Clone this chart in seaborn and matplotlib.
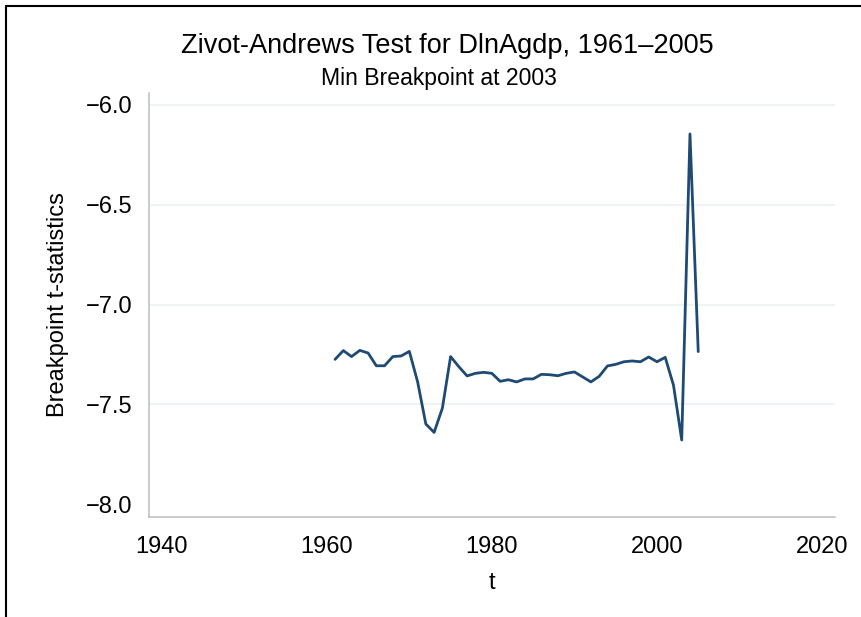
import matplotlib
matplotlib.use("Agg")
import matplotlib.pyplot as plt
from matplotlib.lines import Line2D
import pandas as pd
import seaborn as sns

# ── Data ─────────────────────────────────────────────────────────────────────
years = list(range(1961, 2006))
t_stats = [
    -7.275, -7.231, -7.261, -7.230, -7.243, -7.307, -7.307, -7.261, -7.258, -7.235,
    -7.387, -7.599, -7.641, -7.520, -7.261, -7.312, -7.358, -7.345, -7.340, -7.345,
    -7.385, -7.377, -7.388, -7.373, -7.373, -7.350, -7.352, -7.357, -7.345, -7.338,
    -7.363, -7.388, -7.360, -7.308, -7.300, -7.287, -7.283, -7.287, -7.263, -7.287,
    -7.265, -7.404, -7.679, -6.145, -7.236,
]
x_ticks = [1940, 1960, 1980, 2000, 2020]
y_ticks = [-8.0, -7.5, -7.0, -6.5, -6.0]

title = "Zivot-Andrews Test for DlnAgdp, 1961\u20132005"
subtitle = "Min Breakpoint at 2003"

df = pd.DataFrame({"t": years, "stat": t_stats})

# ── Style ────────────────────────────────────────────────────────────────────
sns.set_style("white")
plt.rcParams["font.family"] = ["Liberation Sans", "DejaVu Sans"]
plt.rcParams["text.color"] = "black"
plt.rcParams["axes.labelcolor"] = "black"
plt.rcParams["xtick.labelcolor"] = "black"
plt.rcParams["ytick.labelcolor"] = "black"

LINE_COL = "#1f4a73"
AXIS_COL = "#bdbdbd"
GRID_COL = "#eaf0f0"

fig = plt.figure(figsize=(8.61, 6.17), dpi=100)
ax = fig.add_axes([149 / 861, 1 - 517 / 617, (835 - 149) / 861, (517 - 93) / 617])

sns.lineplot(data=df, x="t", y="stat", color=LINE_COL, lw=2.0, ax=ax)

ax.set_xlim(1938.46, 2021.57)
ax.set_ylim(-8.065, -5.94)
ax.set_xticks(x_ticks)
ax.set_yticks(y_ticks)
ax.set_yticklabels([f"{v:.1f}".replace("-", "\u2212") for v in y_ticks])

ax.set_xlabel("t", fontsize=17, labelpad=10)
ax.set_ylabel("Breakpoint t-statistics", fontsize=17, labelpad=12)
ax.tick_params(axis="both", labelsize=17, color=AXIS_COL, length=6,
               width=1, direction="out")
ax.tick_params(axis="x", pad=8)
ax.tick_params(axis="y", pad=6)

for side in ("top", "right"):
    ax.spines[side].set_visible(False)
for side in ("left", "bottom"):
    ax.spines[side].set_color(AXIS_COL)
    ax.spines[side].set_linewidth(1.1)

ax.yaxis.grid(True, color=GRID_COL, lw=1.1)
ax.get_ygridlines()[0].set_visible(False)
ax.set_axisbelow(True)

fig.text(447 / 861, 1 - 46 / 617, title, fontsize=19.5, ha="center", va="center")
fig.text(439 / 861, 1 - 78 / 617, subtitle, fontsize=16.6, ha="center", va="center")

# frame of the original screenshot (top and left edges)
fig.add_artist(Line2D([6 / 861, 1], [1 - 6 / 617, 1 - 6 / 617], color="black", lw=1.5))
fig.add_artist(Line2D([6 / 861, 6 / 861], [0, 1 - 6 / 617], color="black", lw=1.5))

fig.savefig("out.png", dpi=100)
